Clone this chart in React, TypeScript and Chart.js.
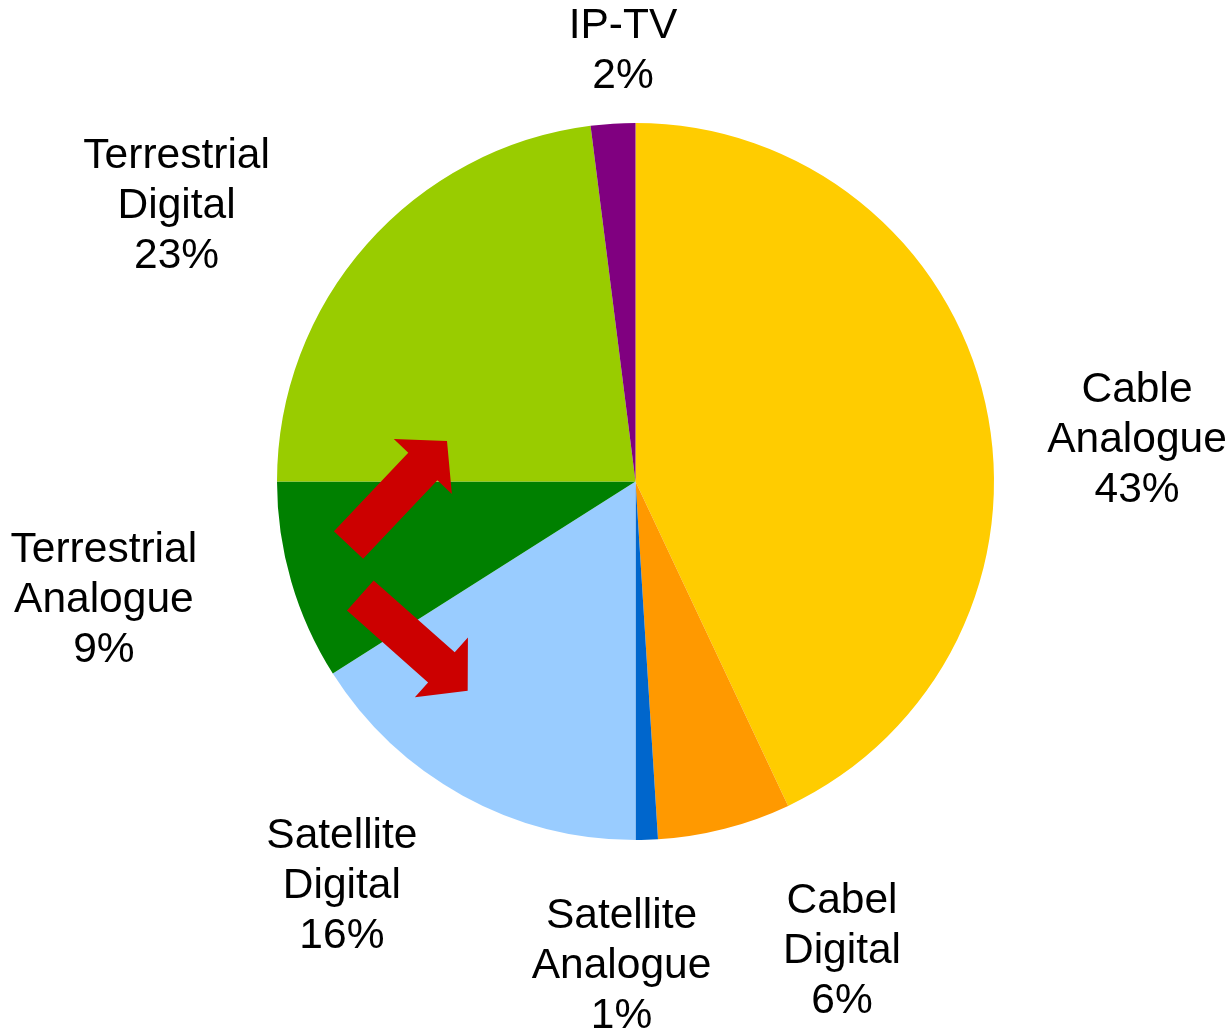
import React, { useEffect, useRef } from "react";
import { Chart, registerables } from "chart.js";

Chart.register(...registerables);

// ---- data ----
const categories = [
  "Cable Analogue",
  "Cabel Digital",
  "Satellite Analogue",
  "Satellite Digital",
  "Terrestrial Analogue",
  "Terrestrial Digital",
  "IP-TV",
];
const shares = [43, 6, 1, 16, 9, 23, 2];
const sliceColors = [
  "#FFCC00",
  "#FF9900",
  "#0066CC",
  "#99CCFF",
  "#008000",
  "#99CC00",
  "#800080",
];

// ---- layout (label anchors relative to pie centre, in radius units) ----
const labelOffsets: [number, number][] = [
  [1.399, -0.082],
  [0.576, 1.343],
  [-0.039, 1.385],
  [-0.819, 1.162],
  [-1.483, 0.364],
  [-1.28, -0.735],
  [-0.035, -1.167],
];

// annotation arrows: tail and tip relative to pie centre, in radius units
const arrows: { tail: [number, number]; tip: [number, number] }[] = [
  { tail: [-0.8006, 0.1771], tip: [-0.5258, -0.113] },
  { tail: [-0.7676, 0.318], tip: [-0.4681, 0.5835] },
];

const labelPlugin = {
  id: "outsideLabels",
  afterDraw(chart: any) {
    const meta = chart.getDatasetMeta(0);
    if (!meta || !meta.data.length) return;
    const arc = meta.data[0];
    const { x: cx, y: cy, outerRadius: r } = arc.getProps(["x", "y", "outerRadius"], true);
    const ctx = chart.ctx as CanvasRenderingContext2D;
    ctx.save();

    // arrows
    ctx.fillStyle = "#CC0000";
    const sw = 0.112 * r;
    const hw = 0.223 * r;
    const hl = 0.098 * r;
    arrows.forEach((a) => {
      const tx = cx + a.tail[0] * r;
      const ty = cy + a.tail[1] * r;
      const px = cx + a.tip[0] * r;
      const py = cy + a.tip[1] * r;
      const len = Math.hypot(px - tx, py - ty);
      const ux = (px - tx) / len;
      const uy = (py - ty) / len;
      const nx = -uy;
      const ny = ux;
      const kx = px - ux * hl;
      const ky = py - uy * hl;
      ctx.beginPath();
      ctx.moveTo(tx + (nx * sw) / 2, ty + (ny * sw) / 2);
      ctx.lineTo(kx + (nx * sw) / 2, ky + (ny * sw) / 2);
      ctx.lineTo(kx + (nx * hw) / 2, ky + (ny * hw) / 2);
      ctx.lineTo(px, py);
      ctx.lineTo(kx - (nx * hw) / 2, ky - (ny * hw) / 2);
      ctx.lineTo(kx - (nx * sw) / 2, ky - (ny * sw) / 2);
      ctx.lineTo(tx - (nx * sw) / 2, ty - (ny * sw) / 2);
      ctx.closePath();
      ctx.fill();
    });

    // labels
    ctx.fillStyle = "#000000";
    ctx.font = '42.5px "Liberation Sans", Arial, sans-serif';
    ctx.textAlign = "center";
    ctx.textBaseline = "alphabetic";
    const lh = 50;
    categories.forEach((name, i) => {
      const lines = [...name.split(" "), `${shares[i]}%`];
      const ax = cx + labelOffsets[i][0] * r;
      const ay = cy + labelOffsets[i][1] * r;
      lines.forEach((ln, j) => {
        ctx.fillText(ln, ax, ay + (j - (lines.length - 1) / 2) * lh);
      });
    });
    ctx.restore();
  },
};

export default function App() {
  const ref = useRef<HTMLCanvasElement>(null);
  useEffect(() => {
    if (!ref.current) return;
    const chart = new Chart(ref.current, {
      type: "pie",
      data: {
        labels: categories,
        datasets: [
          {
            data: shares,
            backgroundColor: sliceColors,
            borderWidth: 0,
          },
        ],
      },
      options: {
        responsive: false,
        animation: false,
        layout: { padding: { left: 277, top: 123, right: 235, bottom: 190 } },
        plugins: {
          legend: { display: false },
          tooltip: { enabled: false },
        },
      },
      plugins: [labelPlugin],
    });
    return () => chart.destroy();
  }, []);
  return (
    <div style={{ position: "absolute", left: 0, top: 0, width: 1229, height: 1030, background: "#fff" }}>
      <canvas ref={ref} width={1229} height={1030} style={{ display: "block" }} />
    </div>
  );
}
